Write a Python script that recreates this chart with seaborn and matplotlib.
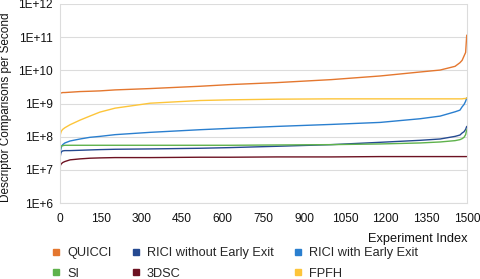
import math
import matplotlib
matplotlib.use("Agg")
import matplotlib.pyplot as plt
import seaborn as sns
import pandas as pd
from matplotlib.lines import Line2D
from matplotlib.ticker import FixedLocator, FuncFormatter, NullLocator

experiment_index = [0, 1, 3, 6, 10, 18, 37, 74, 110, 147, 203, 332, 516, 627,
                    800, 1000, 1180, 1327, 1401, 1456, 1474, 1482, 1489, 1495, 1499]

quicci = [1.2e9, 2.09e9, 2.09e9, 2.09e9, 2.14e9, 2.14e9, 2.19e9, 2.29e9, 2.34e9,
          2.40e9, 2.57e9, 2.82e9, 3.31e9, 3.72e9, 4.27e9, 5.25e9, 6.76e9, 8.91e9,
          1.02e10, 1.32e10, 1.70e10, 2.0e10, 2.69e10, 3.47e10, 1.15e11]

rici_no_ee = [1.32e7, 2.51e7, 3.16e7, 3.55e7, 3.72e7, 3.8e7, 3.8e7, 3.89e7, 3.98e7,
              4.07e7, 4.17e7, 4.27e7, 4.47e7, 4.68e7, 5.13e7, 5.75e7, 6.76e7, 7.76e7,
              8.51e7, 1.02e8, 1.12e8, 1.29e8, 1.41e8, 1.66e8, 2.04e8]

rici_ee = [1.62e7, 2.82e7, 4.17e7, 5.13e7, 5.75e7, 6.46e7, 7.41e7, 8.51e7, 9.55e7,
           1.02e8, 1.15e8, 1.35e8, 1.62e8, 1.78e8, 2.04e8, 2.34e8, 2.69e8, 3.47e8,
           4.17e8, 5.62e8, 6.31e8, 7.94e8, 9.33e8, 1.17e9, 1.48e9]

si = [2.51e7, 3.98e7, 4.79e7, 5.25e7, 5.37e7, 5.5e7, 5.5e7, 5.5e7, 5.5e7,
      5.5e7, 5.5e7, 5.5e7, 5.5e7, 5.5e7, 5.62e7, 5.75e7, 6.03e7, 6.46e7,
      6.92e7, 7.59e7, 8.13e7, 8.71e7, 9.55e7, 1.15e8, 1.62e8]

dsc3 = [8.5e6, 1.32e7, 1.45e7, 1.55e7, 1.66e7, 1.78e7, 2.0e7, 2.14e7, 2.24e7,
        2.29e7, 2.34e7, 2.34e7, 2.4e7, 2.4e7, 2.45e7, 2.45e7, 2.51e7, 2.51e7,
        2.51e7, 2.51e7, 2.51e7, 2.51e7, 2.51e7, 2.51e7, 2.51e7]

fpfh = [8.1e7, 1.12e8, 1.32e8, 1.51e8, 1.66e8, 1.86e8, 2.29e8, 3.16e8, 4.17e8,
        5.5e8, 7.24e8, 1.02e9, 1.23e9, 1.29e9, 1.35e9, 1.38e9, 1.38e9, 1.38e9,
        1.38e9, 1.38e9, 1.38e9, 1.38e9, 1.41e9, 1.41e9, 1.48e9]

series_names = ["QUICCI", "RICI without Early Exit", "RICI with Early Exit",
                "SI", "3DSC", "FPFH"]
series_values = [quicci, rici_no_ee, rici_ee, si, dsc3, fpfh]
colors = ["#e4772f", "#254a91", "#2a7fcf", "#5fb24c", "#6d1222", "#fdc53a"]

x_ticks = [0, 150, 300, 450, 600, 750, 900, 1050, 1200, 1350, 1500]
y_ticks = [1e6, 1e7, 1e8, 1e9, 1e10, 1e11, 1e12]

# ---- build long table ----
rows = []
for name, vals in zip(series_names, series_values):
    for i, v in zip(experiment_index, vals):
        rows.append({"Experiment Index": i, "value": v, "series": name})
df = pd.DataFrame(rows)

sns.set_theme(style="white")
plt.rcParams["font.family"] = ["Liberation Sans", "DejaVu Sans"]

fig = plt.figure(figsize=(4.8, 2.79), dpi=100)
ax = fig.add_axes([60 / 480, 1 - 203 / 279, 407 / 480, 199 / 279])

grid_c = "#dcdcdc"
ax.set_yscale("log")
ax.set_xlim(0, 1500)
ax.set_ylim(1e6, 1e12)
ax.yaxis.set_major_locator(FixedLocator(y_ticks))
ax.yaxis.set_minor_locator(NullLocator())
ax.yaxis.set_major_formatter(FuncFormatter(lambda v, p: "1E+%d" % round(math.log10(v))))
ax.xaxis.set_major_locator(FixedLocator(x_ticks))
ax.grid(axis="y", color=grid_c, lw=0.8)
ax.set_axisbelow(True)

sns.lineplot(data=df, x="Experiment Index", y="value", hue="series",
             hue_order=series_names, palette=colors, linewidth=1.0,
             legend=False, ax=ax)

for s in ["left", "right", "bottom", "top"]:
    ax.spines[s].set_color(grid_c)
    ax.spines[s].set_linewidth(0.8)
ax.spines["top"].set_visible(False)

ax.tick_params(axis="both", which="major", direction="out", length=3,
               width=0.8, color=grid_c, labelsize=8.6, labelcolor="#111111", pad=2)
ax.tick_params(axis="x", pad=4)

ax.set_xlabel("Experiment Index", fontsize=9.2, color="#111111")
ax.xaxis.set_label_coords(1.0, -0.15)
ax.xaxis.label.set_horizontalalignment("right")
ax.set_ylabel("Descriptor Comparisons per Second", fontsize=8.5, color="#111111")
ax.yaxis.set_label_coords(-0.117, 0.48)

# legend filled row by row (matplotlib fills column-major, so reorder)
order = [0, 3, 1, 4, 2, 5]
handles = [Line2D([0], [0], marker="s", linestyle="none", markersize=5,
                  markerfacecolor=colors[k], markeredgecolor=colors[k]) for k in order]
labels = [series_names[k] for k in order]
fig.legend(handles, labels, ncol=3, loc="upper left",
           bbox_to_anchor=(43 / 480, 1 - 238.5 / 279), frameon=False,
           fontsize=9.2, handlelength=0.7, handletextpad=0.5,
           columnspacing=1.55, labelspacing=0.66, borderpad=0.2)

fig.savefig("out.png", dpi=100)
